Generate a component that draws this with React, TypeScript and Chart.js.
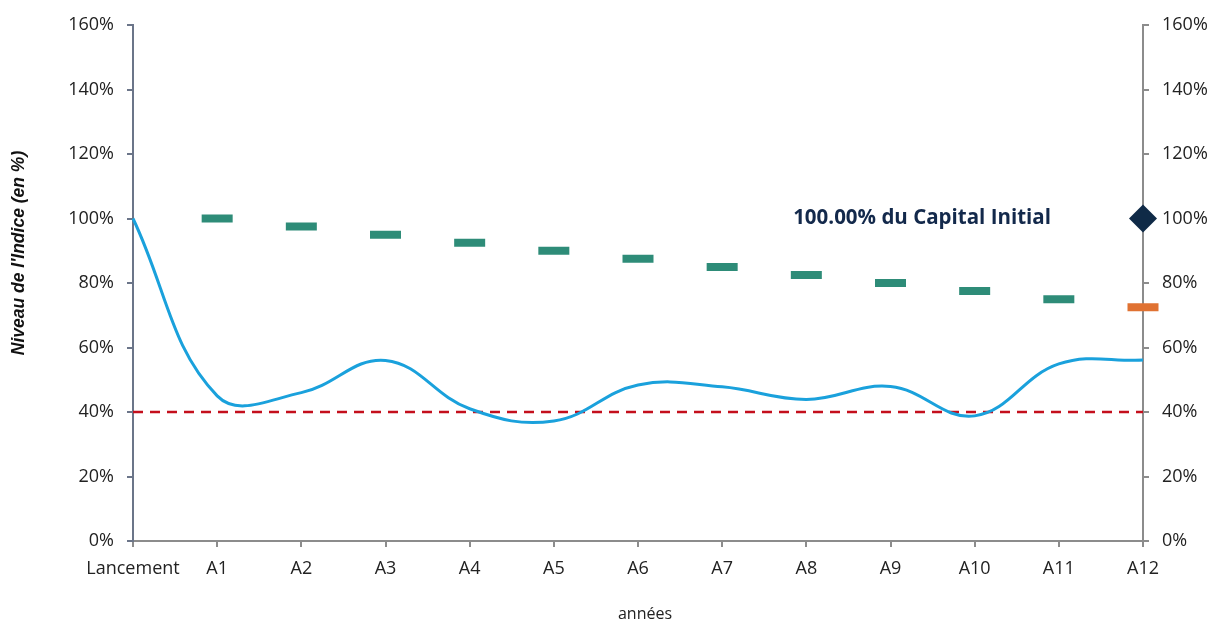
import React, { useEffect, useRef } from "react";
import { Chart, registerables } from "chart.js";

Chart.register(...registerables);

const categories = ["Lancement", "A1", "A2", "A3", "A4", "A5", "A6", "A7", "A8", "A9", "A10", "A11", "A12"];
const indexLevels = [100, 45, 46, 56, 41, 37.2, 48.4, 47.8, 43.9, 47.9, 38.8, 54.9, 56.1];
const capitalLevels = [null, 100, 97.5, 95, 92.5, 90, 87.5, 85, 82.5, 80, 77.5, 75, null];
const finalCapitalLevels = [null, null, null, null, null, null, null, null, null, null, null, null, 72.5];
const guaranteedLevels = [null, null, null, null, null, null, null, null, null, null, null, null, 100];
const barrierLevels = [40, 40, 40, 40, 40, 40, 40, 40, 40, 40, 40, 40, 40];
const yMin = 0;
const yMax = 160;
const yStep = 20;
const capitalLabel = "100.00% du Capital Initial";
const yTitle = "Niveau de l'Indice (en %)";
const xTitle = "années";

const FONT = "'Open Sans', 'Noto Sans', sans-serif";

const textPlugin = {
  id: "textPlugin",
  afterDraw(chart: any) {
    const { ctx, scales } = chart;
    const x = scales.x;
    const y = scales.y;
    ctx.save();
    // capital label
    ctx.fillStyle = "#13294b";
    ctx.font = `bold 20.5px ${FONT}`;
    ctx.textAlign = "right";
    ctx.textBaseline = "middle";
    ctx.fillText(capitalLabel, x.getPixelForValue(12) - 92, y.getPixelForValue(100));
    // y title
    ctx.save();
    ctx.translate(19, 253);
    ctx.rotate(-Math.PI / 2);
    ctx.fillStyle = "#111";
    ctx.font = `italic bold 17.5px 'Liberation Sans', Arial, sans-serif`;
    ctx.textAlign = "center";
    ctx.textBaseline = "middle";
    ctx.fillText(yTitle, 0, 0);
    ctx.restore();
    // x title
    ctx.fillStyle = "#222";
    ctx.font = `16px ${FONT}`;
    ctx.textAlign = "center";
    ctx.textBaseline = "middle";
    ctx.fillText(xTitle, 645, 614);
    ctx.restore();
  },
};

export default function App() {
  const ref = useRef<HTMLCanvasElement | null>(null);
  useEffect(() => {
    if (!ref.current) return;
    const tickFont = { family: FONT, size: 18 };
    const chart = new Chart(ref.current, {
      type: "line",
      data: {
        labels: categories,
        datasets: [
          {
            data: guaranteedLevels,
            showLine: false,
            pointStyle: "rectRot",
            pointRadius: 14,
            pointHoverRadius: 14,
            backgroundColor: "#0f2a47",
            borderColor: "#0f2a47",
            pointBorderWidth: 0,
            order: 0,
          },
          {
            data: capitalLevels,
            showLine: false,
            pointStyle: "line",
            pointRadius: 15.5,
            pointHoverRadius: 15.5,
            pointBorderWidth: 8,
            borderColor: "#2e8c78",
            backgroundColor: "#2e8c78",
            order: 1,
          },
          {
            data: finalCapitalLevels,
            showLine: false,
            pointStyle: "line",
            pointRadius: 15.5,
            pointHoverRadius: 15.5,
            pointBorderWidth: 8,
            borderColor: "#e07232",
            backgroundColor: "#e07232",
            order: 1,
          },
          {
            data: indexLevels,
            borderColor: "#1aa1dc",
            borderWidth: 3,
            tension: 0.4,
            pointRadius: 0,
            fill: false,
            order: 2,
          },
          {
            data: barrierLevels,
            borderColor: "#c40f1c",
            borderWidth: 2.5,
            borderDash: [10, 7],
            pointRadius: 0,
            fill: false,
            order: 3,
          },
        ],
      },
      options: {
        animation: false,
        responsive: false,
        events: [],
        layout: { padding: { top: 25, bottom: 0, left: 0, right: 0 } },
        plugins: { legend: { display: false }, tooltip: { enabled: false } },
        scales: {
          x: {
            type: "category",
            offset: false,
            grid: { display: true, drawOnChartArea: false, drawTicks: true, tickLength: 6, color: "#8c8c8c", lineWidth: 2 },
            border: { display: true, color: "#8c8c8c", width: 2 },
            ticks: { color: "#222", font: tickFont, padding: 11, maxRotation: 0, autoSkip: false },
            afterFit(scale: any) {
              scale.height = 81;
            },
          },
          y: {
            position: "left",
            min: yMin,
            max: yMax,
            grid: { display: true, drawOnChartArea: false, drawTicks: true, tickLength: 6, color: "#6b7589", lineWidth: 2 },
            border: { display: true, color: "#6b7589", width: 2 },
            ticks: { stepSize: yStep, color: "#222", font: tickFont, padding: 13, callback: (v: any) => `${v}%` },
            afterFit(scale: any) {
              scale.width = 133;
            },
          },
          y2: {
            position: "right",
            min: yMin,
            max: yMax,
            grid: { display: true, drawOnChartArea: false, drawTicks: true, tickLength: 6, color: "#8c8c8c", lineWidth: 2 },
            border: { display: true, color: "#8c8c8c", width: 2 },
            ticks: { stepSize: yStep, color: "#222", font: tickFont, padding: 13, callback: (v: any) => `${v}%` },
            afterFit(scale: any) {
              scale.width = 69;
            },
          },
        },
      },
      plugins: [textPlugin],
    });
    return () => chart.destroy();
  }, []);
  return (
    <div style={{ position: "fixed", left: 0, top: 0, width: 1212, height: 622, background: "#fff" }}>
      <canvas ref={ref} width={1212} height={622} style={{ width: 1212, height: 622 }} />
    </div>
  );
}
